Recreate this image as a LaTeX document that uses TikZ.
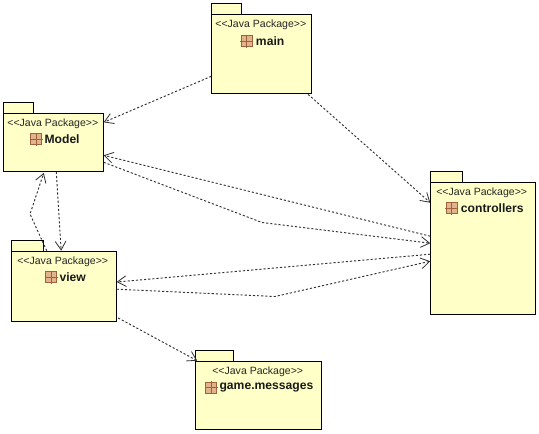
\documentclass[tikz,border=0pt]{standalone}
\usepackage{fontspec}
\setmainfont{Liberation Sans}
\usetikzlibrary{arrows.meta,calc}
\definecolor{pkgfill}{HTML}{FFFFC8}
\definecolor{iconfill}{HTML}{E2B48E}
\definecolor{iconline}{HTML}{A0623C}
\definecolor{dep}{HTML}{303030}
\tikzset{
  pkgbody/.style={draw=black,line width=0.75pt,fill=pkgfill,rectangle,inner sep=0pt,outer sep=0pt,anchor=north west},
  pkgtab/.style={pkgbody},
  stereo/.style={font=\fontsize{7.9pt}{9pt}\selectfont,inner sep=0pt,text=black!85},
  pkgname/.style={font=\fontsize{9.1pt}{11pt}\selectfont\bfseries,inner sep=0pt,anchor=west,text=black!90},
  dependency/.style={draw=dep,line width=0.7pt,dash pattern=on 1.6pt off 1.5pt,-{Straight Barb[length=6.5pt,width=8pt,line width=0.6pt]}},
  pkgicon/.pic={
    \draw[draw=iconline,fill=iconfill,line width=0.6pt] (0,-5.5) rectangle (11,5.5);
    \draw[draw=iconline,line width=0.6pt] (5.5,-6.5) -- (5.5,6.5) (-1,0) -- (12,0);
  }
}
\begin{document}
\begin{tikzpicture}[x=0.75pt,y=-0.75pt]
\useasboundingbox[fill=white] (0,0) rectangle (539,433);
% packages
\node[pkgtab,minimum width=22.8pt,minimum height=8.25pt] (mainTab) at (211.3,3.3) {};
\node[pkgbody,minimum width=74.8pt,minimum height=59.25pt] (main) at (211.3,14.3) {};
\node[pkgtab,minimum width=22.5pt,minimum height=8.25pt] (modelTab) at (3.3,102.3) {};
\node[pkgbody,minimum width=75.3pt,minimum height=43.5pt] (model) at (3.3,113.3) {};
\node[pkgtab,minimum width=23.5pt,minimum height=8.8pt] (viewTab) at (11.7,240) {};
\node[pkgbody,minimum width=78.75pt,minimum height=52.7pt] (view) at (11.7,251.7) {};
\node[pkgtab,minimum width=24pt,minimum height=8.25pt] (ctrlTab) at (430.3,171.7) {};
\node[pkgbody,minimum width=78.75pt,minimum height=99.2pt] (ctrl) at (430.3,182.7) {};
\node[pkgtab,minimum width=28.2pt,minimum height=8.25pt] (msgTab) at (195.7,350.7) {};
\node[pkgbody,minimum width=94pt,minimum height=50.5pt] (msg) at (195.7,361.7) {};
% labels
\node[stereo] (mainS) at (260.8,24.7) {<{}<Java Package>{}>};
\pic at (241.3,41) {pkgicon};
\node[pkgname] (mainN) at (255.7,40.7) {main};
\node[stereo] (modelS) at (52.8,123.3) {<{}<Java Package>{}>};
\pic at (30.5,139.3) {pkgicon};
\node[pkgname] (modelN) at (44.3,139.3) {Model};
\node[stereo] (viewS) at (62.7,261.3) {<{}<Java Package>{}>};
\pic at (45.5,277.3) {pkgicon};
\node[pkgname] (viewN) at (59.3,277.3) {view};
\node[stereo] (ctrlS) at (481.7,192.3) {<{}<Java Package>{}>};
\pic at (446.2,208.3) {pkgicon};
\node[pkgname] (ctrlN) at (460.7,208.3) {controllers};
\node[stereo] (msgS) at (257.7,371.7) {<{}<Java Package>{}>};
\pic at (205.5,387.7) {pkgicon};
\node[pkgname] (msgN) at (219.3,387.7) {game.messages};
% dependencies
\draw[dependency] ($(main.north west)+(0,62)$) -- ($(model.north east)+(0,9)$);
\draw[dependency] ($(main.south east)+(-3,1)$) -- ($(ctrl.north west)+(0,20)$);
\draw[dependency] ($(ctrl.north west)+(0,53.5)$) -- ($(model.north east)+(0,42)$);
\draw[dependency] ($(model.north east)+(0,49)$) -- (262,222.5) -- ($(ctrl.north west)+(0,60.5)$);
\draw[dependency] ($(ctrl.north west)+(0,71.5)$) -- ($(view.north east)+(0,30.3)$);
\draw[dependency] ($(view.north east)+(0,37.5)$) -- (275,296.5) -- ($(ctrl.north west)+(0,78.5)$);
\draw[dependency] ($(view.south east)+(1.5,-4)$) -- ($(msg.north west)+(1.5,-1)$);
\draw[dependency] ($(model.south west)+(53,0.5)$) -- ($(view.north west)+(49.5,-1)$);
\draw[dependency] ($(view.north west)+(35,-1)$) -- (30,214) -- ($(model.south west)+(40.5,1.5)$);
\end{tikzpicture}
\end{document}
